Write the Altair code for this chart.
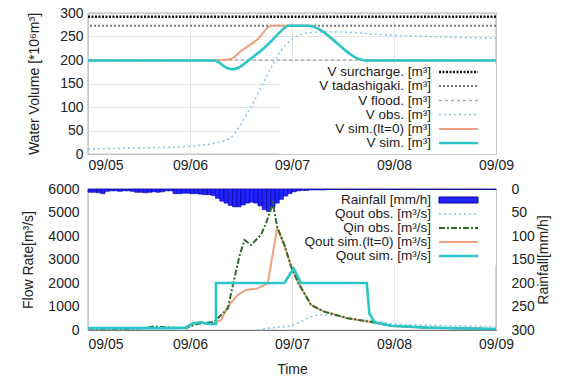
import json
import altair as alt
import pandas as pd

# ---------------- data (hours since 09/05 00:00) ----------------
tick_hours = [0, 24, 48, 72, 96]
tick_labels = ["09/05", "09/06", "09/07", "09/08", "09/09"]

# reservoir levels [*10^6 m3]
level_names = ["V surcharge.", "V tadashigaki.", "V flood."]
level_values = [292, 273, 200]

vobs_h = [0, 12, 23, 32.1, 34.4, 36, 39.1, 42.3, 45.4, 48.5, 51.7, 57.2, 71.3, 96]
vobs_v = [10.6, 13, 16, 28, 42, 64, 113, 170, 220, 247, 258, 260, 253, 246]

vlt0_h = [0, 29.7, 31.5, 33.6, 36, 39.9, 43.1, 51.7, 65.4, 96]
vlt0_v = [199, 199, 200, 202, 219, 244, 273, 273, 199, 199]

vsim_h = [0, 29.7, 30.8, 32.5, 34, 35.5, 37.6, 39.5, 41.5, 44.6, 46.2, 47.2, 51.7, 65.4, 96]
vsim_v = [199, 199, 195, 184, 180, 184, 198, 211, 226, 254, 268, 273, 273, 199, 199]

# rainfall [mm/h], hourly
rain_mm = [7, 7, 8, 10, 5, 4, 4, 5, 4, 4, 5, 7, 7, 8, 7, 6, 7, 6, 4, 4,
           10, 10, 9, 9, 10, 10, 11, 12, 12, 14, 20, 26, 30, 35, 38, 38, 34, 30, 28, 30,
           36, 44, 48, 40, 30, 22, 15, 10, 6, 4, 3, 3, 2, 2, 2, 2, 1, 1, 1, 1,
           1, 1, 1, 1, 1, 1, 1, 1, 1, 1, 1, 1, 1, 1, 1, 1, 1, 1, 1, 1,
           1, 1, 1, 1, 1, 1, 1, 1, 1, 1, 1, 1, 1, 1, 1, 1]

qobs_h = [40, 42.3, 45.4, 47.8, 50.1, 52.5, 54, 57.2, 61, 69, 72, 96]
qobs_v = [0, 70, 140, 160, 350, 570, 640, 640, 500, 350, 240, 140]

qin_h = [0, 10, 14, 15.5, 18, 21, 23, 25.5, 27.5, 29.7, 32.9, 34, 35.6, 36.8, 38.4, 39.5,
         40.7, 41.9, 43.5, 44.5, 46.2, 47.8, 49.5, 52.5, 55.6, 61.1, 67.4, 71.3, 80, 96]
qin_v = [60, 50, 100, 150, 120, 90, 80, 250, 300, 350, 920, 1840, 3120, 3830, 3620, 3830,
         4040, 4550, 5390, 4400, 3620, 2700, 2000, 1060, 780, 500, 320, 180, 100, 40]

qlt0_h = [0, 20, 23, 24.6, 26.5, 28.5, 29.3, 31.3, 32.9, 35.2, 37.2, 39.9, 42.3, 44.5,
          46.2, 47.8, 49.5, 52.5, 55.6, 61.1, 67.4, 71.3, 80, 96]
qlt0_v = [80, 80, 100, 280, 330, 260, 260, 425, 990, 1490, 1700, 1770, 1990, 4330,
          3620, 2700, 2000, 1060, 780, 500, 320, 180, 100, 40]

qsim_h = [0, 20, 23, 24.6, 26.5, 28.5, 30.1, 30.1, 46.2, 48.4, 50.1, 65.6, 66.2, 67.4, 71.3, 80, 96]
qsim_v = [80, 80, 100, 280, 330, 260, 250, 2000, 2000, 2620, 2000, 2000, 700, 330, 180, 100, 40]

# ---------------- styling ----------------
FONT = "Liberation Sans"
W, H1, H2 = 408, 141, 141
C_CYAN = "#2cc5c8"
C_ORANGE = "#f0a080"
C_OBS = "#8cc8ee"
C_GREEN = "#2a6e2a"

label_expr = "%s[round(datum.value/24)]" % json.dumps(tick_labels)
xscale = alt.Scale(domain=[0, 96], nice=False, zero=False)


def X(field, title=None, pad=7):
    return alt.X(field, scale=xscale, title=title,
                 axis=alt.Axis(values=tick_hours, labelExpr=label_expr, grid=True,
                               ticks=False, labelPadding=pad, domain=False,
                               labelAlign=alt.condition("datum.value == 0", alt.value("left"), alt.value("center")),
                               titlePadding=11))


def frame(h, v):
    return pd.DataFrame({"h": h, "v": v, "i": list(range(len(h)))})


def line(h, v, color, width, dash, interp, yenc, xtitle, pad):
    kw = dict(color=color, strokeWidth=width, interpolate=interp, clip=True)
    if dash:
        kw["strokeDash"] = dash
    return alt.Chart(frame(h, v)).mark_line(**kw).encode(
        x=X("h:Q", xtitle, pad), y=yenc, order="i:Q")


def legend_layers(entries, text_x, sx1, sx2):
    out = []
    for label, y, style in entries:
        out.append(alt.Chart(pd.DataFrame({"t": [label]})).mark_text(
            align="right", baseline="middle", font=FONT, fontSize=13.5, color="#222"
        ).encode(text="t:N", x=alt.value(text_x), y=alt.value(y)))
        d = pd.DataFrame({"t": [label]})
        if style.get("rect"):
            out.append(alt.Chart(d).mark_rect(color=style["color"], stroke="#0000a0", strokeWidth=1).encode(
                x=alt.value(sx1), x2=alt.value(sx2), y=alt.value(y - 3), y2=alt.value(y + 3)))
        else:
            kw = dict(color=style["color"], strokeWidth=style["w"])
            if style.get("dash"):
                kw["strokeDash"] = style["dash"]
            out.append(alt.Chart(d).mark_rule(**kw).encode(
                x=alt.value(sx1), x2=alt.value(sx2), y=alt.value(y)))
    return out


def bg_rect(x1, x2, y1, y2):
    return alt.Chart(pd.DataFrame({"a": [0]})).mark_rect(color="white").encode(
        x=alt.value(x1), x2=alt.value(x2), y=alt.value(y1), y2=alt.value(y2))


# ---------------- top: water volume ----------------
yv = alt.Y("v:Q", scale=alt.Scale(domain=[0, 300], nice=False),
           axis=alt.Axis(values=list(range(0, 301, 50)), ticks=False, labelPadding=5,
                         domain=False, titlePadding=18, format="d"),
           title="Water Volume [*10\u2076m\u00b3]")

lvl_df = pd.DataFrame({"name": level_names, "v": level_values})
lvl_styles = [("#111111", 2.4, [2, 1.5]), ("#777777", 2.0, [2, 2]), ("#aaaaaa", 1.3, [3, 3])]
lvl_layers = []
for (name, val), (c, w, d) in zip(zip(level_names, level_values), lvl_styles):
    lvl_layers.append(alt.Chart(lvl_df[lvl_df["name"] == name]).mark_rule(
        color=c, strokeWidth=w, strokeDash=d).encode(y=yv))

top_entries = [
    ("V surcharge. [m\u00b3]", 59, {"color": "#111111", "w": 2.4, "dash": [2, 1.5]}),
    ("V tadashigaki. [m\u00b3]", 73, {"color": "#777777", "w": 2.0, "dash": [2, 2]}),
    ("V flood. [m\u00b3]", 87.5, {"color": "#aaaaaa", "w": 1.3, "dash": [3, 3]}),
    ("V obs. [m\u00b3]", 101.5, {"color": C_OBS, "w": 1.6, "dash": [2, 3]}),
    ("V sim.(lt=0) [m\u00b3]", 116, {"color": C_ORANGE, "w": 2}),
    ("V sim. [m\u00b3]", 130, {"color": C_CYAN, "w": 2.6}),
]

TP = 4  # top x label padding
top = alt.layer(
    bg_rect(191, 408, 51, 141),
    *lvl_layers,
    line(vobs_h, vobs_v, C_OBS, 1.6, [2, 3], "monotone", yv, None, TP),
    line(vlt0_h, vlt0_v, C_ORANGE, 2, None, "monotone", yv, None, TP),
    line(vsim_h, vsim_v, C_CYAN, 2.6, None, "monotone", yv, None, TP),
    *legend_layers(top_entries, 343, 351, 390),
).properties(width=W, height=H1)

# ---------------- bottom: flow & rainfall ----------------
yq = alt.Y("v:Q", scale=alt.Scale(domain=[0, 6000], nice=False),
           axis=alt.Axis(values=list(range(0, 6001, 1000)), ticks=False, labelPadding=9,
                         domain=False, titlePadding=12, format="d"),
           title="Flow Rate[m\u00b3/s]")

BP = 7
rain_df = pd.DataFrame({"h": list(range(len(rain_mm))), "r": rain_mm})
rain_df["h2"] = rain_df["h"] + 1
rain = alt.Chart(rain_df).mark_bar(color="#2222ff", stroke="#0000a0", strokeWidth=0.6).encode(
    x=X("h:Q", "Time", BP), x2="h2:Q",
    y=alt.Y("r:Q", scale=alt.Scale(domain=[0, 300], reverse=True, nice=False),
            axis=alt.Axis(orient="right", values=list(range(0, 301, 50)), ticks=False, grid=False,
                          labelPadding=15, domain=False, titleAngle=270, titlePadding=16, format="d"),
            title="Rainfall[mm/h]"),
    y2=alt.datum(0),
)

flows = alt.layer(
    line(qobs_h, qobs_v, C_OBS, 1.6, [2, 3], "linear", yq, "Time", BP),
    line(qlt0_h, qlt0_v, C_ORANGE, 2, None, "linear", yq, "Time", BP),
    line(qin_h, qin_v, C_GREEN, 2, [6, 2, 2, 2], "linear", yq, "Time", BP),
    line(qsim_h, qsim_v, C_CYAN, 2.6, None, "linear", yq, "Time", BP),
)

bot_entries = [
    ("Rainfall [mm/h]", 11, {"rect": True, "color": "#2222ff"}),
    ("Qout obs. [m\u00b3/s]", 25, {"color": C_OBS, "w": 1.6, "dash": [2, 3]}),
    ("Qin obs. [m\u00b3/s]", 39, {"color": C_GREEN, "w": 2, "dash": [6, 2, 2, 2]}),
    ("Qout sim.(lt=0) [m\u00b3/s]", 53, {"color": C_ORANGE, "w": 2}),
    ("Qout sim. [m\u00b3/s]", 67, {"color": C_CYAN, "w": 2.6}),
]

bottom = alt.layer(
    bg_rect(203, 408, 2, 76),
    rain,
    flows,
    *legend_layers(bot_entries, 343, 351, 390),
).resolve_scale(y="independent").properties(width=W, height=H2)

chart = alt.vconcat(top, bottom, spacing=8).properties(
    padding={"left": 21, "top": 5, "right": 5, "bottom": 2},
    background="white",
).configure_view(stroke="#777777", strokeWidth=1.2).configure_axis(
    labelFont=FONT, titleFont=FONT, labelFontSize=14, titleFontSize=14,
    titleFontWeight="normal", labelColor="#222222", titleColor="#222222",
    gridColor="#dddddd", gridWidth=0.8
)

chart.save("out.html", embed_options={"renderer": "svg", "actions": False})
